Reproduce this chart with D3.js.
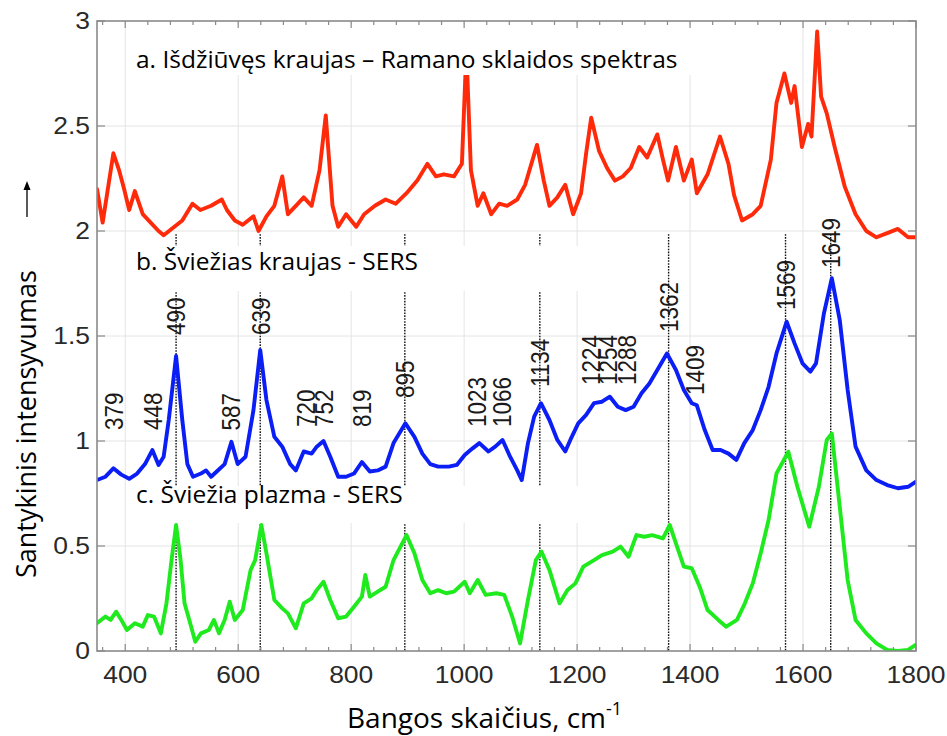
<!DOCTYPE html>
<html>
<head>
<meta charset="utf-8">
<script src="https://cdn.jsdelivr.net/npm/d3@7"></script>
<style>
  body { margin: 0; background: #fff; }
  svg { display: block; }
</style>
</head>
<body>
<svg id="chart" width="947" height="736"></svg>
<script>
// ---- Spectra: [wavenumber cm^-1, relative intensity] ----
const driedBloodRaman = [
  [350,2.20],[360,2.04],[379,2.37],[389,2.29],[398,2.20],[407,2.10],[417,2.19],[431,2.08],
  [445,2.04],[459,2.00],[468,1.98],[487,2.02],[501,2.05],[519,2.13],[533,2.10],[552,2.12],
  [571,2.15],[580,2.10],[594,2.05],[608,2.03],[627,2.07],[636,2.00],[650,2.07],[664,2.12],
  [678,2.26],[688,2.08],[702,2.12],[716,2.16],[730,2.12],[744,2.29],[755,2.55],[767,2.12],
  [777,2.02],[791,2.08],[809,2.02],[823,2.08],[842,2.12],[861,2.15],[879,2.13],[898,2.18],
  [917,2.24],[935,2.32],[950,2.26],[964,2.27],[982,2.26],[996,2.32],[1004,2.86],[1012,2.29],
  [1024,2.12],[1034,2.18],[1048,2.08],[1062,2.13],[1076,2.12],[1094,2.15],[1108,2.22],[1129,2.41],
  [1141,2.24],[1151,2.12],[1165,2.16],[1179,2.22],[1193,2.08],[1207,2.18],[1216,2.37],[1225,2.54],
  [1239,2.38],[1253,2.30],[1267,2.24],[1281,2.26],[1295,2.30],[1310,2.40],[1324,2.35],[1342,2.46],
  [1352,2.34],[1361,2.24],[1375,2.40],[1389,2.24],[1403,2.34],[1412,2.18],[1431,2.27],[1453,2.45],
  [1468,2.32],[1478,2.17],[1492,2.05],[1511,2.08],[1525,2.12],[1543,2.34],[1553,2.61],[1567,2.75],
  [1579,2.61],[1585,2.69],[1598,2.40],[1609,2.51],[1615,2.45],[1625,2.95],[1632,2.64],[1642,2.56],
  [1656,2.40],[1674,2.21],[1693,2.08],[1712,2.00],[1730,1.97],[1749,1.99],[1768,2.01],[1786,1.97],
  [1800,1.97]
];

const freshBloodSERS = [
  [350,0.814],[365,0.83],[379,0.87],[393,0.84],[407,0.82],[421,0.845],[435,0.89],[448,0.957],
  [459,0.886],[468,0.925],[477,1.10],[490,1.405],[501,1.10],[510,0.89],[520,0.83],[534,0.845],
  [543,0.86],[552,0.83],[562,0.855],[576,0.89],[588,0.996],[599,0.89],[613,0.925],[627,1.147],
  [639,1.433],[650,1.195],[664,1.02],[678,0.973],[692,0.89],[702,0.86],[716,0.95],[730,0.94],
  [739,0.973],[751,1.00],[763,0.925],[777,0.83],[791,0.83],[805,0.845],[819,0.90],[833,0.855],
  [847,0.86],[861,0.878],[875,0.99],[896,1.084],[912,1.02],[926,0.94],[940,0.89],[954,0.878],
  [973,0.878],[987,0.886],[1001,0.933],[1015,0.965],[1027,0.99],[1043,0.95],[1055,0.973],[1068,1.005],
  [1080,0.933],[1094,0.86],[1102,0.814],[1113,0.99],[1124,1.116],[1136,1.18],[1151,1.10],[1165,1.005],
  [1179,0.95],[1188,1.005],[1202,1.084],[1216,1.124],[1230,1.18],[1244,1.187],[1258,1.211],[1272,1.163],
  [1286,1.147],[1300,1.163],[1314,1.227],[1328,1.274],[1342,1.338],[1359,1.417],[1375,1.338],[1389,1.243],
  [1403,1.18],[1412,1.17],[1426,1.052],[1440,0.957],[1454,0.957],[1468,0.94],[1482,0.91],[1496,0.99],
  [1511,1.052],[1525,1.147],[1539,1.258],[1553,1.417],[1571,1.568],[1585,1.465],[1599,1.37],[1613,1.33],
  [1623,1.37],[1637,1.608],[1651,1.775],[1665,1.576],[1679,1.243],[1693,0.973],[1712,0.86],[1730,0.814],
  [1749,0.79],[1768,0.775],[1786,0.782],[1800,0.806]
];

const freshPlasmaSERS = [
  [350,0.132],[365,0.164],[374,0.148],[384,0.187],[393,0.148],[403,0.10],[417,0.132],[431,0.116],
  [440,0.171],[451,0.164],[463,0.084],[473,0.227],[482,0.433],[490,0.60],[498,0.433],[505,0.227],
  [515,0.132],[524,0.044],[534,0.084],[548,0.10],[557,0.148],[566,0.084],[576,0.148],[585,0.235],
  [594,0.148],[608,0.195],[622,0.386],[630,0.433],[641,0.60],[650,0.465],[664,0.243],[678,0.203],
  [688,0.179],[702,0.108],[716,0.227],[730,0.251],[739,0.29],[751,0.33],[763,0.243],[777,0.156],
  [791,0.164],[805,0.211],[819,0.259],[825,0.362],[833,0.259],[847,0.283],[861,0.306],[875,0.433],
  [898,0.552],[912,0.465],[926,0.338],[940,0.275],[954,0.29],[968,0.275],[982,0.283],[1001,0.33],
  [1010,0.275],[1024,0.338],[1038,0.267],[1057,0.275],[1071,0.267],[1085,0.164],[1099,0.036],[1113,0.243],
  [1127,0.433],[1137,0.473],[1151,0.386],[1169,0.227],[1183,0.29],[1197,0.322],[1211,0.402],[1230,0.433],
  [1244,0.457],[1263,0.473],[1277,0.497],[1291,0.449],[1305,0.552],[1319,0.544],[1333,0.552],[1352,0.536],
  [1364,0.60],[1375,0.513],[1389,0.402],[1403,0.394],[1417,0.306],[1431,0.195],[1450,0.148],[1464,0.116],
  [1483,0.148],[1497,0.227],[1511,0.322],[1525,0.465],[1539,0.624],[1553,0.846],[1574,0.949],[1590,0.782],
  [1611,0.592],[1628,0.782],[1642,1.005],[1651,1.036],[1665,0.687],[1679,0.338],[1693,0.148],[1712,0.084],
  [1730,0.036],[1749,0.005],[1768,0.0],[1786,0.005],[1800,0.03]
];

// Band assignments marked on the fresh-blood SERS spectrum
const bandPositions = [379,448,490,587,639,720,752,819,895,1023,1066,1134,1224,1254,1288,1362,1409,1569,1649];
// Bands that get a dotted guide line through all three spectra
const guideBands = [490,639,895,1134,1362,1569,1649];

const xTickValues = [400,600,800,1000,1200,1400,1600,1800];
const yTickValues = [0,0.5,1,1.5,2,2.5,3];

const spectrumTitles = [
  "a. Išdžiūvęs kraujas – Ramano sklaidos spektras",
  "b. Šviežias kraujas - SERS",
  "c. Šviežia plazma - SERS"
];

// ---- Layout ----
const plot = { left: 97, right: 916, top: 21, bottom: 651 };
// intensity level where each band label starts (label reads upward from here)
const bandLabelLevel = {
  379:1.052, 448:1.052, 490:1.505, 587:1.05, 639:1.505, 720:1.067, 752:1.067, 819:1.067,
  895:1.205, 1023:1.067, 1066:1.067, 1134:1.257, 1224:1.267, 1254:1.267, 1288:1.267,
  1362:1.519, 1409:1.219, 1569:1.624, 1649:1.824
};
const stretch = 1.15; // axis typography is slightly widened

const svg = d3.select("#chart");
const x = d3.scaleLinear().domain([350, 1800]).range([plot.left, plot.right]);
const y = d3.scaleLinear().domain([0, 3]).range([plot.bottom, plot.top]);

svg.append("defs").append("clipPath").attr("id", "plotClip")
  .append("rect")
  .attr("x", plot.left).attr("y", plot.top)
  .attr("width", plot.right - plot.left).attr("height", plot.bottom - plot.top);

// grid
const grid = svg.append("g").attr("stroke", "#e4e4e4").attr("stroke-width", 1);
grid.selectAll("line.vx").data(xTickValues.filter(v => v < 1800)).join("line")
  .attr("x1", d => x(d)).attr("x2", d => x(d))
  .attr("y1", plot.top).attr("y2", plot.bottom);
grid.selectAll("line.hy").data(yTickValues.filter(v => v > 0 && v < 3)).join("line")
  .attr("x1", plot.left).attr("x2", plot.right)
  .attr("y1", d => y(d)).attr("y2", d => y(d));

// dotted band guides
svg.append("g").selectAll("line").data(guideBands).join("line")
  .attr("x1", d => x(d)).attr("x2", d => x(d))
  .attr("y1", y(1.985)).attr("y2", plot.bottom)
  .attr("stroke", "#111").attr("stroke-width", 1.4)
  .attr("stroke-dasharray", "1.6,1.3");

// spectra
const line = d3.line().x(d => x(d[0])).y(d => y(d[1])).curve(d3.curveLinear);
const curves = svg.append("g").attr("clip-path", "url(#plotClip)")
  .attr("fill", "none").attr("stroke-width", 3.9)
  .attr("stroke-linejoin", "round").attr("stroke-linecap", "round");
curves.append("path").datum(driedBloodRaman).attr("d", line).attr("stroke", "#ff2a0a");
curves.append("path").datum(freshBloodSERS).attr("d", line).attr("stroke", "#0a1ef5");
curves.append("path").datum(freshPlasmaSERS).attr("d", line).attr("stroke", "#1eea1e");

// spectrum titles on white panels
const titleBoxes = [
  { x: 130, y: 25, w: 595, h: 50, base: 68 },
  { x: 130, y: 246, w: 505, h: 45, base: 270 },
  { x: 130, y: 486, w: 470, h: 37, base: 503 }
];
const titles = svg.append("g");
titles.selectAll("rect").data(titleBoxes).join("rect")
  .attr("x", d => d.x).attr("y", d => d.y).attr("width", d => d.w).attr("height", d => d.h)
  .attr("fill", "#fff");
titles.selectAll("text").data(titleBoxes).join("text")
  .attr("x", 136).attr("y", d => d.base)
  .attr("font-family", "'Open Sans', 'Noto Sans', sans-serif")
  .attr("font-size", 24.5).attr("fill", "#000")
  .text((d, i) => spectrumTitles[i]);

// band labels
svg.append("g").selectAll("text").data(bandPositions).join("text")
  .attr("transform", d => `translate(${x(d)},${y(bandLabelLevel[d])}) scale(${stretch},1) rotate(-90)`)
  .attr("dy", "0.36em")
  .attr("font-family", "'Liberation Sans', Arial, sans-serif")
  .attr("font-size", 22.5).attr("fill", "#1a1a1a")
  .text(d => d);

// axes frame with inward ticks
const axisColor = "#8a8a8a";
const frame = svg.append("g");
const minorX = d3.range(360, 1800, 40).filter(v => !xTickValues.includes(v));

function xTicks(g, yPos, dir) {
  g.selectAll("line.maj").data(xTickValues).join("line").attr("class", "maj")
    .attr("x1", d => x(d)).attr("x2", d => x(d))
    .attr("y1", yPos).attr("y2", yPos + dir * 7);
  g.selectAll("line.min").data(minorX).join("line").attr("class", "min")
    .attr("x1", d => x(d)).attr("x2", d => x(d))
    .attr("y1", yPos).attr("y2", yPos + dir * 4);
}
function yTicks(g, xPos, dir) {
  g.selectAll("line.maj").data(yTickValues).join("line").attr("class", "maj")
    .attr("x1", xPos).attr("x2", xPos + dir * 8)
    .attr("y1", d => y(d)).attr("y2", d => y(d));
}
const tickG = frame.append("g").attr("stroke", axisColor).attr("stroke-width", 1.2);
xTicks(tickG.append("g"), plot.bottom, -1);
xTicks(tickG.append("g"), plot.top, 1);
yTicks(tickG.append("g"), plot.left, 1);
yTicks(tickG.append("g"), plot.right, -1);

frame.append("rect")
  .attr("x", plot.left).attr("y", plot.top)
  .attr("width", plot.right - plot.left).attr("height", plot.bottom - plot.top)
  .attr("fill", "none").attr("stroke", axisColor).attr("stroke-width", 1.6);

// tick labels
const tickFont = "'Liberation Sans', Arial, sans-serif";
frame.append("g").selectAll("text").data(xTickValues).join("text")
  .attr("transform", d => `translate(${x(d)},${plot.bottom + 32}) scale(${stretch},1)`)
  .attr("text-anchor", "middle")
  .attr("font-family", tickFont).attr("font-size", 23).attr("fill", "#2a2a2a")
  .text(d => d);
frame.append("g").selectAll("text").data(yTickValues).join("text")
  .attr("transform", d => `translate(${plot.left - 7},${y(d)}) scale(${stretch},1)`)
  .attr("text-anchor", "end").attr("dy", "0.36em")
  .attr("font-family", tickFont).attr("font-size", 23).attr("fill", "#2a2a2a")
  .text(d => d);

// axis titles
const titleFont = "'Open Sans', 'Noto Sans', sans-serif";
const xt = svg.append("text")
  .attr("x", 347).attr("y", 728)
  .attr("font-family", titleFont).attr("font-size", 28).attr("fill", "#000");
xt.append("tspan").text("Bangos skaičius, cm");
xt.append("tspan").attr("dy", -13).attr("font-size", 18).text("-1");

svg.append("text")
  .attr("transform", "translate(36,578) rotate(-90)")
  .attr("font-family", titleFont).attr("font-size", 27).attr("fill", "#000")
  .text("Santykinis intensyvumas");

// upward arrow next to the intensity title
const arrow = svg.append("g").attr("stroke", "#000").attr("fill", "#000");
arrow.append("line").attr("x1", 27).attr("x2", 27).attr("y1", 217).attr("y2", 187)
  .attr("stroke-width", 1.3);
arrow.append("path").attr("d", "M27,181 L23.5,190 L30.5,190 Z").attr("stroke", "none");
</script>
</body>
</html>
